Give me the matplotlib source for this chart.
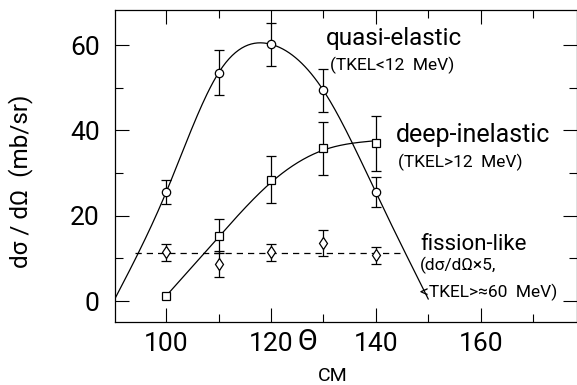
import matplotlib
matplotlib.use('Agg')
import matplotlib.pyplot as plt
import numpy as np

plt.rcParams['font.family'] = ['Roboto', 'DejaVu Sans']

# angles (deg, CM)
theta = [100, 110, 120, 130, 140]

# quasi-elastic (TKEL < 12 MeV)
qe_y = [25.5, 53.5, 60.2, 49.4, 25.5]
qe_err = [2.8, 5.3, 5.0, 5.0, 3.5]
# smooth curve knots
qe_curve_x = [90, 100, 110, 120, 130, 140, 150]
qe_curve_y = [0.0, 25.5, 53.5, 60.2, 49.4, 25.5, 0.5]

# deep-inelastic (TKEL > 12 MeV)
di_y = [1.2, 15.2, 28.5, 35.8, 37.0]
di_err = [0.0, 4.0, 5.6, 6.2, 6.5]
di_curve_x = [100, 110, 120, 130, 140]
di_curve_y = [1.2, 15.0, 27.8, 35.4, 37.6]

# fission-like (x5)
fi_y = [11.5, 8.7, 11.5, 13.6, 10.8]
fi_err = [2.0, 3.0, 2.0, 3.0, 2.0]
fi_line_x = [94, 145]
fi_line_y = [11.3, 11.3]


def spline(xk, yk, n=200):
    # natural cubic spline, numpy only
    xk = np.asarray(xk, float); yk = np.asarray(yk, float)
    m = len(xk); h = np.diff(xk)
    A = np.zeros((m, m)); b = np.zeros(m)
    A[0, 0] = A[-1, -1] = 1
    for i in range(1, m - 1):
        A[i, i-1] = h[i-1]; A[i, i] = 2*(h[i-1]+h[i]); A[i, i+1] = h[i]
        b[i] = 6*((yk[i+1]-yk[i])/h[i] - (yk[i]-yk[i-1])/h[i-1])
    M = np.linalg.solve(A, b)
    xs = np.linspace(xk[0], xk[-1], n)
    idx = np.clip(np.searchsorted(xk, xs) - 1, 0, m - 2)
    x0 = xk[idx]; x1 = xk[idx+1]; hh = x1 - x0
    ys = (M[idx]*(x1-xs)**3 + M[idx+1]*(xs-x0)**3)/(6*hh) \
        + (yk[idx]/hh - M[idx]*hh/6)*(x1-xs) + (yk[idx+1]/hh - M[idx+1]*hh/6)*(xs-x0)
    return xs, ys


fig = plt.figure(figsize=(5.77, 3.85), dpi=100)
ax = fig.add_axes([0.1993, 0.1636, 0.8, 0.81])

lw = 0.9
xs, ys = spline(qe_curve_x, qe_curve_y)
ax.plot(xs, ys, color='black', lw=lw)
xs, ys = spline(di_curve_x, di_curve_y)
ax.plot(xs, ys, color='black', lw=lw)
ax.plot(fi_line_x, fi_line_y, color='black', lw=lw, dashes=(5, 4))

eb = dict(color='black', lw=lw, capsize=3.5, capthick=lw, elinewidth=lw, ls='none',
          mfc='white', mec='black', mew=lw)
ax.errorbar(theta, qe_y, yerr=qe_err, marker='o', ms=6, **eb)
ax.errorbar(theta, di_y, yerr=[e if e > 0 else np.nan for e in di_err], marker='s', ms=5.5, **eb)
ax.errorbar(theta, fi_y, yerr=fi_err, marker='d', ms=6.5, **eb)

ax.set_xlim(90.25, 178.3)
ax.set_ylim(-4.9, 68.2)
ax.set_xticks([100, 120, 140, 160])
ax.set_xticks([110, 130, 150, 170], minor=True)
ax.set_yticks([0, 20, 40, 60])
ax.set_yticks([10, 30, 50], minor=True)
ax.tick_params(which='both', direction='in', top=True, right=True, width=0.8,
               labelsize=19)
ax.tick_params(which='major', length=10)
ax.tick_params(which='minor', length=6)
ax.tick_params(axis='x', pad=7)
ax.tick_params(axis='y', pad=11)
for s in ax.spines.values():
    s.set_linewidth(0.9)

ax.set_ylabel('dσ / dΩ  (mb/sr)', fontsize=17.5)
ax.yaxis.set_label_coords(-0.178, 0.452)
ax.text(125.0, -9.6, 'Θ', fontsize=21, ha='left', va='center', clip_on=False)
ax.text(129.0, -17.6, 'CM', fontsize=14, ha='left', va='center', clip_on=False)

ax.text(130.4, 60.0, 'quasi-elastic', fontsize=17.5)
ax.text(131.3, 54.1, '(TKEL<12  MeV)', fontsize=12.5)
ax.text(143.8, 37.3, 'deep-inelastic', fontsize=18)
ax.text(144.3, 31.4, '(TKEL>12  MeV)', fontsize=12.5)
ax.text(148.5, 12.0, 'fission-like', fontsize=16)
ax.text(148.5, 7.3, '(dσ/dΩ×5,', fontsize=12.5)
ax.text(148.5, 0.9, '<TKEL>≈60  MeV)', fontsize=12.5)

fig.savefig('out.png', dpi=100)
